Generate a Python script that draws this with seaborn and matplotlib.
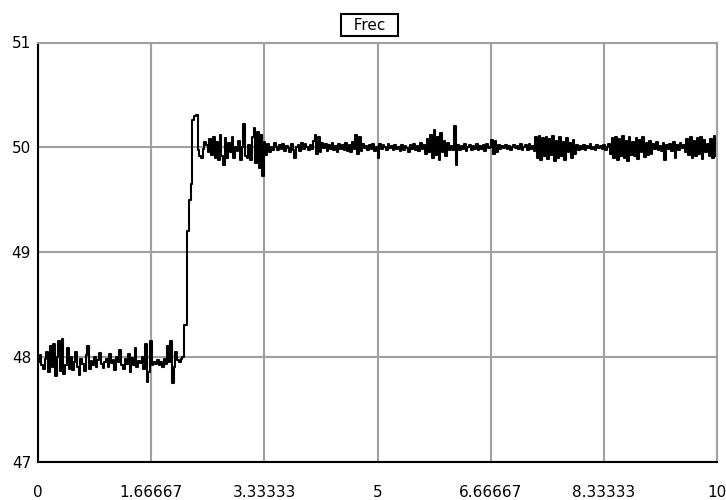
import numpy as np
import pandas as pd
import matplotlib
matplotlib.use("Agg")
import matplotlib.pyplot as plt
import seaborn as sns

dt = 0.025
freq = [
    # 0.0 - 0.475
    47.95, 48.02, 47.92, 47.88, 47.98, 48.05, 47.85, 48.10, 47.90, 48.12,
    47.82, 48.00, 48.15, 47.86, 48.17, 47.84, 47.92, 48.08, 47.88, 48.00,
    # 0.5 - 0.975
    47.87, 47.95, 48.05, 47.90, 47.83, 47.98, 47.93, 47.86, 48.02, 48.10,
    47.88, 47.96, 47.92, 48.00, 47.90, 47.97, 48.04, 47.93, 47.89, 47.95,
    # 1.0 - 1.475
    47.98, 47.90, 48.03, 47.94, 47.97, 47.87, 48.00, 47.95, 48.06, 47.92,
    47.88, 47.98, 47.93, 48.03, 47.85, 47.99, 47.92, 48.08, 47.90, 47.96,
    # 1.5 - 1.975
    47.94, 48.00, 47.88, 48.12, 47.76, 47.85, 48.15, 47.92, 47.95, 47.93,
    47.97, 47.92, 47.95, 47.90, 47.98, 47.93, 48.10, 47.95, 48.15, 47.75,
    # 2.0 - 2.475 (step)
    47.90, 48.05, 47.97, 47.95, 47.98, 48.00, 48.30, 48.30, 49.20, 49.50,
    49.65, 50.26, 50.30, 50.31, 49.97, 49.92, 49.90, 49.98, 50.05, 50.02,
    # 2.5 - 2.975
    49.95, 50.08, 49.93, 50.10, 49.90, 50.05, 49.88, 50.12, 49.92, 49.83,
    50.09, 49.90, 50.04, 49.95, 50.10, 49.90, 50.00, 49.96, 50.06, 49.88,
    # 3.0 - 3.475
    50.00, 50.22, 49.92, 49.90, 50.02, 49.88, 50.10, 50.18, 49.85, 50.15,
    49.80, 50.12, 49.73, 50.05, 49.93, 50.03, 49.95, 50.00, 49.97, 50.04,
    # 3.5 - 3.975
    50.00, 49.97, 50.02, 49.98, 50.03, 49.96, 50.01, 49.99, 49.95, 50.03,
    49.97, 49.90, 50.00, 50.02, 49.96, 50.04, 49.98, 50.03, 50.00, 49.97,
    # 4.0 - 4.475
    50.02, 49.98, 50.06, 50.12, 49.94, 50.10, 49.95, 50.04, 49.99, 50.03,
    49.96, 50.02, 49.98, 50.04, 49.97, 50.01, 49.95, 50.03, 49.98, 50.02,
    # 4.5 - 4.975
    49.97, 50.04, 49.96, 50.02, 49.95, 50.05, 49.98, 50.12, 49.94, 50.10,
    49.96, 50.03, 49.99, 50.01, 49.97, 50.02, 49.98, 50.03, 49.96, 50.00,
    # 5.0 - 5.475
    49.90, 50.03, 49.98, 50.02, 50.00, 49.97, 50.03, 49.99, 50.01, 49.97,
    50.02, 49.98, 50.00, 49.96, 50.02, 49.97, 50.01, 49.99, 49.95, 50.02,
    # 5.5 - 5.975
    49.98, 50.03, 49.97, 50.01, 49.96, 50.04, 49.98, 50.02, 49.94, 50.08,
    49.95, 50.12, 49.90, 50.16, 49.93, 50.10, 49.88, 50.14, 49.95, 50.06,
    # 6.0 - 6.475
    49.92, 50.04, 49.97, 50.01, 49.97, 50.20, 49.83, 50.02, 49.97, 50.01,
    49.98, 50.03, 49.96, 50.00, 50.02, 49.97, 50.01, 49.98, 50.03, 49.97,
    # 6.5 - 6.975
    50.01, 49.98, 50.02, 49.96, 50.03, 49.99, 50.00, 50.07, 49.94, 50.06,
    49.95, 50.02, 49.98, 50.01, 49.99, 50.02, 49.98, 50.01, 49.97, 50.00,
    # 7.0 - 7.475
    50.02, 49.99, 50.01, 49.98, 50.03, 49.97, 50.00, 50.02, 49.97, 50.03,
    49.98, 50.01, 49.96, 50.10, 49.90, 50.11, 49.88, 50.09, 49.92, 50.10,
    # 7.5 - 7.975
    49.89, 50.08, 49.93, 50.11, 49.87, 50.06, 49.90, 50.10, 49.92, 50.05,
    49.88, 50.09, 49.95, 50.04, 49.90, 50.07, 49.94, 50.02, 49.97, 50.01,
    # 8.0 - 8.475
    49.98, 50.02, 49.97, 50.01, 49.99, 50.03, 49.98, 50.00, 49.97, 50.02,
    49.99, 50.01, 49.98, 50.02, 49.97, 50.00, 50.03, 49.94, 50.09, 49.90,
    # 8.5 - 8.975
    50.10, 49.88, 50.08, 49.92, 50.11, 49.90, 50.06, 49.87, 50.10, 49.93,
    50.05, 49.92, 50.09, 49.89, 50.07, 49.95, 50.10, 49.91, 50.04, 49.93,
    # 9.0 - 9.475
    50.06, 49.94, 50.03, 49.98, 50.05, 49.97, 50.01, 49.96, 50.04, 49.88,
    50.02, 49.98, 50.03, 49.96, 50.05, 49.90, 50.02, 49.97, 50.04, 49.99,
    # 9.5 - 9.975, then 10.0
    50.02, 49.95, 50.08, 49.93, 50.10, 49.90, 50.06, 49.92, 50.09, 49.94,
    50.10, 49.89, 50.07, 49.95, 50.03, 49.92, 50.08, 49.90, 50.11, 49.92,
    49.95,
]
time = np.arange(len(freq)) * dt

x_ticks = [0, 10 / 6, 20 / 6, 5, 40 / 6, 50 / 6, 10]
x_labels = ["0", "1.66667", "3.33333", "5", "6.66667", "8.33333", "10"]
y_ticks = [47, 48, 49, 50, 51]
y_labels = ["47", "48", "49", "50", "51"]
title = "Frec"

df = pd.DataFrame({"t": time, "frec": freq})

# ---- plot ----
sns.set_theme(style="white")
plt.rcParams["font.family"] = ["DejaVu Sans"]

fig = plt.figure(figsize=(7.26, 5.0), dpi=100)
ax = fig.add_axes([38 / 726, 1 - 461.5 / 500, 679 / 726, 419 / 500])

sns.lineplot(data=df, x="t", y="frec", ax=ax, color="black", linewidth=1.5,
             drawstyle="steps-post", estimator=None)

ax.set_xlim(0, 10)
ax.set_ylim(47, 51)
ax.set_xticks(x_ticks)
ax.set_xticklabels(x_labels)
ax.set_yticks(y_ticks)
ax.set_yticklabels(y_labels)
ax.set_xlabel("")
ax.set_ylabel("")

ax.grid(True, color="#a0a0a0", linewidth=1.5)
ax.set_axisbelow(True)
ax.tick_params(axis="x", length=0, pad=17, labelsize=11, colors="black")
ax.tick_params(axis="y", length=0, pad=5, labelsize=11, colors="black")

for side in ["left", "bottom"]:
    ax.spines[side].set_color("black")
    ax.spines[side].set_linewidth(1.5)
for side in ["top", "right"]:
    ax.spines[side].set_color("#a0a0a0")
    ax.spines[side].set_linewidth(1.5)

# boxed title, as in the original
fig.text(369.5 / 726, 1 - 25 / 500, "  " + title + "  ", ha="center", va="center",
         fontsize=11, color="black",
         bbox=dict(boxstyle="square,pad=0.2", facecolor="white",
                   edgecolor="black", linewidth=1.5))

fig.savefig("out.png", dpi=100, facecolor="white")
